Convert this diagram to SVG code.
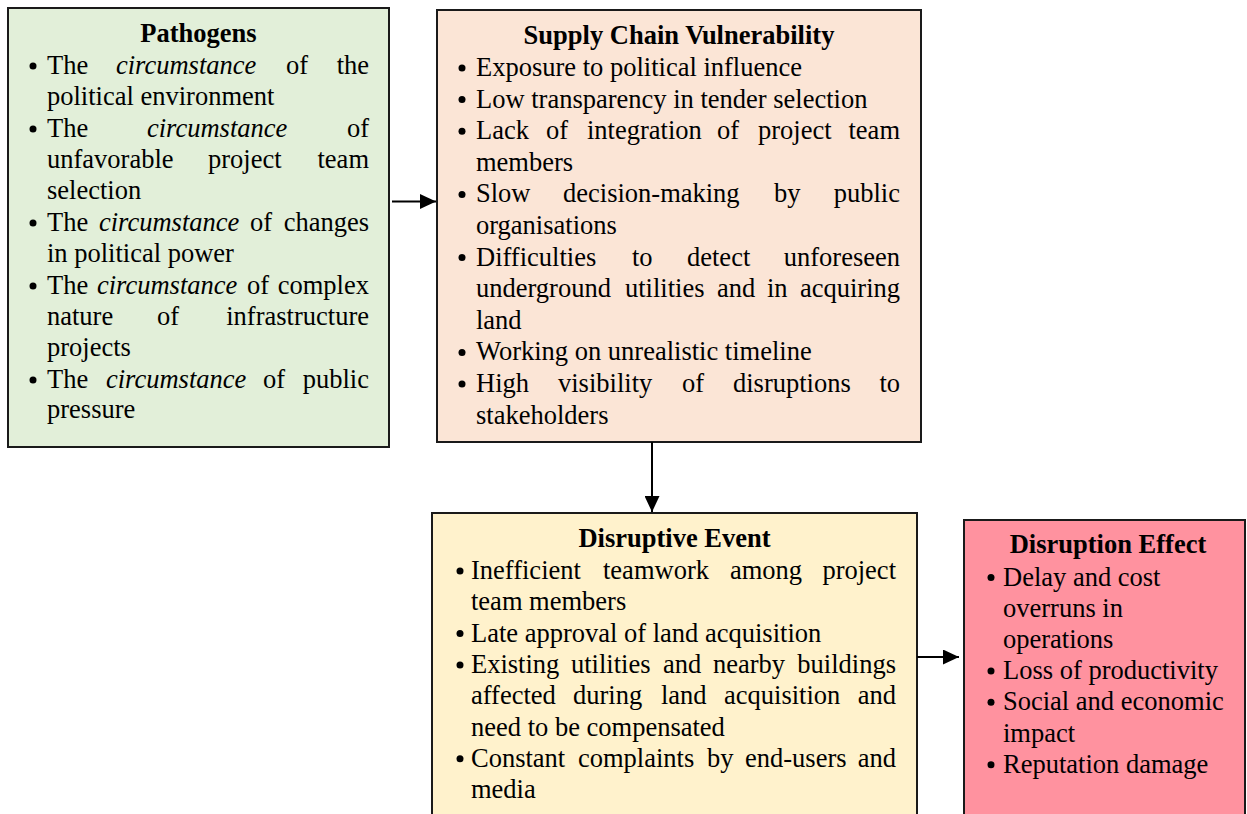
<svg xmlns="http://www.w3.org/2000/svg" width="1247" height="814" viewBox="0 0 1247 814">
<style>
text{font-family:"Liberation Serif","Times New Roman",serif;font-size:26.5px;fill:#000}
.t{font-weight:bold;text-anchor:middle}
.e{text-anchor:end}
.i{font-style:italic}
.box{stroke:#1a1a1a;stroke-width:2}
.b{fill:#000}
.c{stroke:#000;stroke-width:2;fill:none}
</style>
<defs>
<marker id="ah" viewBox="0 0 16 15" refX="16" refY="7.5" markerWidth="16" markerHeight="15" markerUnits="userSpaceOnUse" orient="auto">
<path d="M0,0 L16,7.5 L0,15 z" fill="#000"/>
</marker>
</defs>
<rect width="1247" height="814" fill="#fff"/>

<g id="pathogens">
<rect class="box" x="8" y="8" width="381" height="439" fill="#E2EFD9"/>
<text class="t" x="198.5" y="42">Pathogens</text>
<g class="b"><circle cx="33" cy="66" r="3.5"/><circle cx="33" cy="129" r="3.5"/><circle cx="33" cy="223" r="3.5"/><circle cx="33" cy="286" r="3.5"/><circle cx="33" cy="380" r="3.5"/></g>
<text y="74"><tspan x="47">The</tspan><tspan x="116" class="i">circumstance</tspan><tspan x="286">of</tspan></text><text class="e" x="369" y="74">the</text>
<text x="47" y="105">political environment</text>
<text y="137"><tspan x="47">The</tspan><tspan x="147" class="i">circumstance</tspan></text><text class="e" x="369" y="137">of</text>
<text y="168"><tspan x="47">unfavorable</tspan><tspan x="208">project</tspan></text><text class="e" x="369" y="168">team</text>
<text x="47" y="199">selection</text>
<text y="231"><tspan x="47">The</tspan><tspan x="99" class="i">circumstance</tspan><tspan x="250">of</tspan></text><text class="e" x="369" y="231">changes</text>
<text x="47" y="262">in political power</text>
<text y="294"><tspan x="47">The</tspan><tspan x="97" class="i">circumstance</tspan><tspan x="247">of</tspan></text><text class="e" x="369" y="294">complex</text>
<text y="325"><tspan x="47">nature</tspan><tspan x="157">of</tspan></text><text class="e" x="369" y="325">infrastructure</text>
<text x="47" y="356">projects</text>
<text y="388"><tspan x="47">The</tspan><tspan x="106" class="i">circumstance</tspan><tspan x="263">of</tspan></text><text class="e" x="369" y="388">public</text>
<text x="47" y="418">pressure</text>
</g>

<g id="supply-chain-vulnerability">
<rect class="box" x="437" y="10" width="484" height="432" fill="#FBE5D6"/>
<text class="t" x="679" y="44">Supply Chain Vulnerability</text>
<g class="b"><circle cx="462" cy="68" r="3.5"/><circle cx="462" cy="99.6" r="3.5"/><circle cx="462" cy="131.2" r="3.5"/><circle cx="462" cy="194.4" r="3.5"/><circle cx="462" cy="257.6" r="3.5"/><circle cx="462" cy="352.4" r="3.5"/><circle cx="462" cy="384" r="3.5"/></g>
<text x="476" y="76">Exposure to political influence</text>
<text x="476" y="107.6">Low transparency in tender selection</text>
<text y="139.2"><tspan x="476">Lack</tspan><tspan x="546">of</tspan><tspan x="587">integration</tspan><tspan x="717">of</tspan><tspan x="758">project</tspan></text><text class="e" x="900" y="139.2">team</text>
<text x="476" y="170.8">members</text>
<text y="202.4"><tspan x="476">Slow</tspan><tspan x="563">decision-making</tspan><tspan x="774">by</tspan></text><text class="e" x="900" y="202.4">public</text>
<text x="476" y="234">organisations</text>
<text y="265.6"><tspan x="476">Difficulties</tspan><tspan x="632">to</tspan><tspan x="687">detect</tspan></text><text class="e" x="900" y="265.6">unforeseen</text>
<text y="297.2"><tspan x="476">underground</tspan><tspan x="625">utilities</tspan><tspan x="717">and</tspan><tspan x="767">in</tspan></text><text class="e" x="900" y="297.2">acquiring</text>
<text x="476" y="328.8">land</text>
<text x="476" y="360.4">Working on unrealistic timeline</text>
<text y="392"><tspan x="476">High</tspan><tspan x="558">visibility</tspan><tspan x="682">of</tspan><tspan x="733">disruptions</tspan></text><text class="e" x="900" y="392">to</text>
<text x="476" y="423.6">stakeholders</text>
</g>

<g id="disruptive-event">
<rect class="box" x="432" y="513" width="485" height="320" fill="#FFF2CC"/>
<text class="t" x="674.5" y="547">Disruptive Event</text>
<g class="b"><circle cx="460" cy="571" r="3.5"/><circle cx="460" cy="633.6" r="3.5"/><circle cx="460" cy="664.9" r="3.5"/><circle cx="460" cy="758.8" r="3.5"/></g>
<text y="579"><tspan x="471">Inefficient</tspan><tspan x="603">teamwork</tspan><tspan x="730">among</tspan></text><text class="e" x="896" y="579">project</text>
<text x="471" y="610.3">team members</text>
<text x="471" y="641.6">Late approval of land acquisition</text>
<text y="672.9"><tspan x="471">Existing</tspan><tspan x="571">utilities</tspan><tspan x="663">and</tspan><tspan x="713">nearby</tspan></text><text class="e" x="896" y="672.9">buildings</text>
<text y="704.2"><tspan x="471">affected</tspan><tspan x="573">during</tspan><tspan x="661">land</tspan><tspan x="724">acquisition</tspan></text><text class="e" x="896" y="704.2">and</text>
<text x="471" y="735.5">need to be compensated</text>
<text y="766.8"><tspan x="471">Constant</tspan><tspan x="578">complaints</tspan><tspan x="707">by</tspan><tspan x="745">end-users</tspan></text><text class="e" x="896" y="766.8">and</text>
<text x="471" y="798.1">media</text>
</g>

<g id="disruption-effect">
<rect class="box" x="964" y="520" width="281" height="313" fill="#FF929F"/>
<text class="t" x="1108" y="553">Disruption Effect</text>
<g class="b"><circle cx="991" cy="577.5" r="3.5"/><circle cx="991" cy="671.1" r="3.5"/><circle cx="991" cy="702.3" r="3.5"/><circle cx="991" cy="764.7" r="3.5"/></g>
<text x="1003" y="585.5">Delay and cost</text>
<text x="1003" y="616.7">overruns in</text>
<text x="1003" y="647.9">operations</text>
<text x="1003" y="679.1">Loss of productivity</text>
<text x="1003" y="710.3">Social and economic</text>
<text x="1003" y="741.5">impact</text>
<text x="1003" y="772.7">Reputation damage</text>
</g>

<g id="connectors">
<line class="c" x1="392" y1="201.5" x2="436" y2="201.5" marker-end="url(#ah)"/>
<line class="c" x1="652" y1="442" x2="652" y2="512" marker-end="url(#ah)"/>
<line class="c" x1="917" y1="657" x2="959" y2="657" marker-end="url(#ah)"/>
</g>
</svg>
